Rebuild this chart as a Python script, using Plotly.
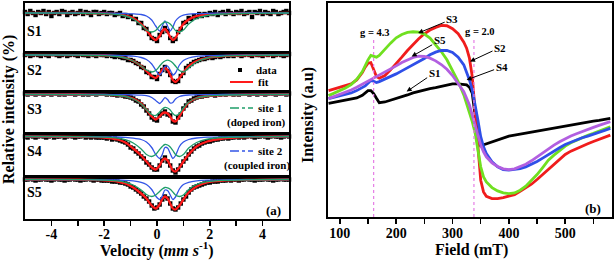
import plotly.graph_objects as go

# ---------------- data: panel (a) Mossbauer spectra ----------------
velocity_data = [round(-5.0 + 0.1 * i, 1) for i in range(101)]

s1_data = [1, -1, 2, 0, -2, 1, 0, 2, -1, 1, -3, 0, 1, -1, 2, 1, -2, 0, 1, -1, 0, 2, -1, 1, 0, -2, 1, 1, -1, 0,
           1, -1, 0, 0, -2, -1, 0, -3, -2, -4, -3, -6, -6, -10, -10, -15, -16, -21, -25, -26, -28, -22, -19, -15, -18,
           -25, -28, -26, -19, -16, -10, -9, -5, -6, -3, -4, -1, -3, -1, -2, 0,
           -1, 1, -2, 0, 1, -1, 2, 0, -1, 1, 0, 2, -1, 0, 1, -4, 1, 0, 2, -1, 1, 0, -1, 2, 1, -1, 0, 1, 2, 0]
s2_data = [0, 1, -1, 0, 1, 0, -1, 1, 0, -1, 1, 1, 0, -1, 0, 1, -1, 0, 1, 0, -1, 1, 0, 0, -1, 1, 0, -1, 1, 0,
           0, -1, 0, -1, -2, -1, -2, -3, -3, -5, -5, -6, -8, -9, -12, -13, -17, -18, -22, -22, -24, -19, -15, -12, -16,
           -20, -26, -27, -26, -21, -18, -13, -11, -9, -7, -6, -5, -4, -4, -3, -2,
           -3, -2, -1, -2, -1, 0, -1, 0, -1, 1, 0, -1, 0, 1, 0, -1, 1, 0, 0, -1, 1, 0, 1, -1, 0, 1, 0, -1, 0, 1]
s3_data = [1, 0, 2, 1, 0, 1, 2, 0, 1, 1, 0, 2, 1, 0, 1, 0, 2, 1, 1, 0, 1, 2, 0, 1, 0, 1, 1, 0, 2, 1,
           1, 0, 1, 0, 0, -1, 0, -1, -2, -2, -3, -4, -6, -7, -10, -12, -16, -19, -23, -25, -26, -21, -19, -17, -20,
           -21, -27, -28, -23, -20, -14, -11, -7, -6, -4, -3, -2, -2, -1, -1, 0,
           0, -1, 1, 0, 1, 0, 1, 2, 0, 1, 0, 1, 2, 1, 0, 1, 1, 0, 2, 1, 0, 1, 2, 1, 0, 1, 1, 2, 0, 1]
s4_data = [0, -1, 1, 0, -1, 0, 1, 0, -1, 0, 1, -1, 0, 0, 1, -1, 0, 1, 0, -1, 0, 0, 1, -1, 0, -1, 0, -1, -1, -1,
           -1, -2, -1, -3, -2, -3, -4, -5, -6, -8, -11, -12, -15, -17, -20, -22, -26, -28, -31, -33, -33, -29, -24, -21, -25,
           -29, -34, -36, -33, -29, -25, -22, -18, -15, -12, -10, -9, -7, -6, -5, -5,
           -4, -3, -3, -2, -2, -1, -2, -1, -1, 0, -1, 0, -1, 0, 1, 0, -1, 0, 0, 1, 0, -1, 0, 1, 0, 0, -1, 0, 1, 0]
s5_data = [0, 0, 1, 0, -1, 0, 0, 1, 0, 0, -1, 0, 1, 0, 0, -1, 0, 0, 1, 0, 0, -1, 0, 0, 1, 0, -1, 0, 0, -1,
           -1, -1, -1, -2, -2, -2, -3, -3, -4, -5, -7, -8, -10, -12, -14, -17, -19, -22, -26, -29, -28, -25, -20, -17, -19,
           -24, -29, -30, -28, -24, -20, -17, -13, -10, -8, -7, -6, -5, -4, -3, -3,
           -2, -2, -2, -1, -1, -1, 0, -1, 0, 0, -1, 0, 0, 1, 0, 0, -1, 0, 0, 0, 1, 0, 0, -1, 0, 0, 1, 0, 0, 0]

velocity_fit = [-5.0, -3.0, -2.0, -1.5, -1.2, -0.9, -0.6, -0.4, -0.2, -0.05, 0.1, 0.2, 0.3, 0.4, 0.5,
                0.6, 0.7, 0.85, 1.0, 1.2, 1.5, 1.9, 2.5, 3.5, 5.0]

s1_fit = [0, 0, -0.3, -1, -2.5, -5, -11, -17, -24, -27, -23, -18, -16, -19, -24, -27, -25, -17, -11, -6.5, -3, -1.5, -0.6, -0.2, 0]
s1_site1 = [0, -0.2, -0.6, -1.5, -3, -6, -12, -17, -19, -17.5, -13, -10.5, -9, -9.3, -11, -14, -17.5, -19, -17, -11, -5.5, -2.5, -1, -0.4, 0]
s1_site2 = [0, 0, -0.1, -0.3, -0.5, -0.8, -1.5, -3, -7, -13, -18, -13, -8, -13, -18, -14, -8, -4, -2.2, -1.2, -0.6, -0.3, -0.1, 0, 0]

s2_fit = [0, -0.1, -0.4, -1.2, -3, -6, -11, -16, -21, -23, -19, -14.5, -13, -15, -20, -25, -27, -23, -17.5, -11, -6, -3, -1.2, -0.4, 0]
s2_site1 = [0, -0.2, -0.6, -1.5, -3, -6, -11, -15, -17, -15.5, -11, -8, -6, -5.2, -6, -8, -11, -15.5, -17, -13, -7, -3, -1.2, -0.4, 0]
s2_site2 = [0, -0.1, -0.2, -0.4, -0.7, -1.2, -2.5, -4.5, -9, -15, -20, -17, -11.5, -11, -15, -20, -18, -10, -5.5, -3, -1.4, -0.7, -0.3, -0.1, 0]

s3_fit = [0, 0, -0.3, -0.8, -1.8, -4, -9, -15, -22, -25, -22, -19, -18, -19, -22, -26, -27, -22, -15, -8, -3.5, -1.5, -0.6, -0.2, 0]
s3_site1 = [0, -0.1, -0.4, -1, -2, -4.5, -9.5, -15, -20, -21, -17.5, -14.5, -13, -13.5, -15.5, -19, -21, -19, -13.5, -7.5, -3.5, -1.5, -0.6, -0.2, 0]
s3_site2 = [0, 0, 0, -0.1, -0.2, -0.3, -0.6, -1.2, -3, -6, -9, -6.5, -3.2, -5, -8.5, -8, -4.5, -2, -1, -0.5, -0.2, -0.1, 0, 0, 0]

s4_fit = [0, -0.3, -1, -3, -6, -12, -19, -25, -31, -33, -29, -24, -22, -24, -29, -34, -35, -31, -25, -18, -10, -5, -2, -0.6, 0]
s4_site1 = [0, -0.2, -0.7, -1.6, -3.2, -6.5, -12.5, -18, -20, -18, -13, -10, -8, -8.5, -10.5, -14, -18, -20, -18, -11.5, -6, -2.6, -1, -0.4, 0]
s4_site2 = [0, -0.1, -0.3, -0.5, -0.9, -1.6, -3, -5.5, -11, -18, -22, -18, -11, -11.5, -17, -22, -19, -10, -5.5, -3, -1.5, -0.7, -0.3, -0.1, 0]

s5_fit = [0, -0.2, -0.8, -2, -4, -8, -14, -19, -26, -29, -25, -19.5, -17, -19, -24, -29, -30, -26, -20, -13, -7, -3, -1.2, -0.4, 0]
s5_site1 = [0, -0.2, -0.6, -1.4, -2.8, -5.5, -10.5, -15, -17, -15.5, -12, -9.5, -8, -8.3, -9.8, -12.5, -15.5, -17, -15.5, -10, -5, -2.2, -0.9, -0.3, 0]
s5_site2 = [0, -0.1, -0.3, -0.5, -0.8, -1.4, -2.8, -5, -10, -16.5, -20, -16.5, -10.5, -11, -15.5, -20, -17.5, -9.5, -5, -2.8, -1.4, -0.6, -0.3, -0.1, 0]

sample_names = ["S1", "S2", "S3", "S4", "S5"]
velocity_ticks = [-4, -2, 0, 2, 4]
velocity_ticktext = ["-4", "-2", "0", "2", "4"]
velocity_minor = [-3, -1, 1, 3]

# ---------------- data: panel (b) EPR spectra ----------------
field = [80, 90, 100, 110, 120, 130, 140, 145, 150, 155, 160, 165, 170, 180, 190, 200, 210, 220, 230, 240,
         250, 260, 270, 280, 290, 300, 310, 320, 325, 330, 335, 340, 345, 350, 355, 360, 370, 380, 390, 400,
         410, 420, 430, 440, 450, 460, 470, 480, 490, 500, 510, 520, 530, 540, 550, 560, 570, 580]

epr_black = [4.0, 4.3, 4.6, 4.9, 5.1, 5.6, 6.4, 7.0, 7.8, 7.8, 6.9, 5.5, 4.2, 4.4, 4.9, 5.4, 5.8, 6.5, 7.1, 7.6,
             8.0, 8.4, 8.7, 9.0, 9.4, 9.8, 9.8, 9.6, 9.5, 8.8, 7.0, 0.5, -6.0, -8.7, -8.4, -8.0, -7.4, -6.8, -6.2, -5.8,
             -5.5, -5.2, -4.9, -4.6, -4.3, -4.0, -3.6, -3.3, -3.0, -2.6, -2.4, -2.1, -1.9, -1.6, -1.3, -1.1, -0.8, -0.5]
epr_red = [7.8, 8.3, 8.8, 9.3, 9.8, 11.0, 13.2, 14.8, 16.0, 16.2, 14.0, 12.0, 11.5, 12.3, 14.0, 15.8, 17.8, 19.8, 21.6, 23.3,
           24.8, 25.9, 26.7, 27.3, 27.2, 26.3, 24.8, 22.3, 20.5, 17.5, 12.0, 2.5, -9.5, -19.0, -22.5, -23.8, -24.5, -24.5, -24.2, -23.8,
           -23.3, -22.3, -21.3, -20.2, -18.8, -17.3, -15.8, -14.3, -12.8, -11.3, -10.3, -9.5, -8.8, -8.1, -7.4, -6.8, -6.2, -5.5]
epr_green = [6.3, 7.0, 7.8, 8.6, 9.6, 11.2, 13.5, 15.3, 17.0, 18.3, 18.0, 17.8, 18.3, 20.2, 22.0, 23.6, 24.6, 25.2, 25.4, 25.3,
             24.7, 23.5, 21.5, 19.5, 17.0, 13.8, 10.5, 6.5, 4.0, 1.5, -1.5, -4.8, -10.5, -15.0, -18.0, -19.5, -21.2, -22.2, -22.8, -23.0,
             -22.8, -22.0, -20.8, -19.2, -17.3, -15.2, -13.0, -11.5, -10.0, -8.8, -7.8, -7.0, -6.3, -5.6, -5.0, -4.3, -3.7, -3.0]
epr_blue = [5.4, 5.8, 6.3, 6.7, 7.1, 7.8, 8.6, 9.2, 10.0, 10.8, 10.6, 10.2, 10.5, 11.2, 12.0, 12.8, 13.7, 14.6, 15.5, 16.4,
            17.4, 18.5, 19.3, 19.8, 19.8, 19.2, 17.8, 15.5, 13.5, 11.0, 8.0, 4.0, -1.0, -6.0, -9.0, -11.0, -13.5, -15.0, -15.8, -16.0,
            -15.8, -15.5, -15.0, -14.3, -13.4, -12.4, -11.3, -10.3, -9.3, -8.3, -7.6, -7.0, -6.3, -5.8, -5.3, -4.7, -4.1, -3.5]
epr_violet = [5.4, 6.0, 6.6, 7.3, 8.0, 8.8, 9.7, 10.1, 10.6, 11.0, 11.4, 11.8, 12.3, 13.2, 14.2, 15.2, 16.2, 17.0, 17.7, 18.1,
              18.0, 17.5, 16.7, 15.6, 14.2, 12.3, 10.0, 7.5, 5.5, 3.5, 0.5, -2.5, -5.5, -8.5, -10.5, -12.0, -13.8, -14.9, -15.6, -15.8,
              -15.6, -15.0, -14.2, -13.2, -12.0, -10.8, -9.6, -8.5, -7.5, -6.6, -5.8, -5.1, -4.4, -3.8, -3.2, -2.6, -2.0, -1.5]

field_ticks = [100, 200, 300, 400, 500]
field_ticktext = ["100", "200", "300", "400", "500"]
field_minor = [150, 250, 350, 450, 550]
g_fields = [160, 338]
g_labels = ["g = 4.3", "g = 2.0"]

# ---------------- layout helpers ----------------
W, H = 614, 262
FONT = "Liberation Serif"


def px(x):
    return x / W


def py(y):
    return 1 - y / H


fig = go.Figure()

strip_px = [(3, 53), (53, 92), (92, 134), (134, 177), (177, 219)]
strip_ranges = [[-40, 10], [-37, 2], [-39.5, 2.5], [-40.5, 2.5], [-39.5, 2.5]]
data_sets = [s1_data, s2_data, s3_data, s4_data, s5_data]
fits = [s1_fit, s2_fit, s3_fit, s4_fit, s5_fit]
site1s = [s1_site1, s2_site1, s3_site1, s4_site1, s5_site1]
site2s = [s1_site2, s2_site2, s3_site2, s4_site2, s5_site2]

RED_A = "#ff1a1a"
GREEN_A = "#1f9e6a"
BLUE_A = "#3355e6"
TICKFONT = dict(family=FONT, size=14, color="black", weight="bold")

layout_axes = {}
for k in range(5):
    n = k + 1
    xa = "x" if n == 1 else f"x{n}"
    ya = "y" if n == 1 else f"y{n}"
    fig.add_trace(go.Scatter(x=velocity_data, y=data_sets[k], mode="markers", xaxis=xa, yaxis=ya,
                             marker=dict(symbol="square", size=4.4, color="black", line=dict(width=0)),
                             cliponaxis=False, showlegend=False))
    fig.add_trace(go.Scatter(x=velocity_fit, y=fits[k], mode="lines", xaxis=xa, yaxis=ya,
                             line=dict(color=RED_A, width=2.3, shape="spline", smoothing=0.8), showlegend=False))
    fig.add_trace(go.Scatter(x=velocity_fit, y=site2s[k], mode="lines", xaxis=xa, yaxis=ya,
                             line=dict(color=BLUE_A, width=1.3, shape="spline", smoothing=0.8), showlegend=False))
    fig.add_trace(go.Scatter(x=velocity_fit, y=site1s[k], mode="lines", xaxis=xa, yaxis=ya,
                             line=dict(color=GREEN_A, width=1.3, shape="spline", smoothing=0.8), showlegend=False))
    top, bot = strip_px[k]
    xname = "xaxis" if n == 1 else f"xaxis{n}"
    yname = "yaxis" if n == 1 else f"yaxis{n}"
    xdict = dict(domain=[px(25), px(289)], range=[-5, 5], anchor=ya, showline=True, mirror=True,
                 linecolor="black", linewidth=1.6, showgrid=False, zeroline=False)
    if n > 1:
        xdict["matches"] = "x"
    if n < 5:
        xdict.update(showticklabels=False, ticks="")
    else:
        xdict.update(tickmode="array", tickvals=velocity_ticks, ticktext=velocity_ticktext,
                     ticks="outside", ticklen=5, tickwidth=1.5, tickcolor="black",
                     ticklabelstandoff=-3, tickfont=TICKFONT,
                     minor=dict(tickmode="array", tickvals=velocity_minor, ticks="outside",
                                ticklen=5, tickwidth=1.5, tickcolor="black"))
    layout_axes[xname] = xdict
    layout_axes[yname] = dict(domain=[py(bot), py(top)], range=strip_ranges[k], anchor=xa,
                              showline=True, mirror=True, linecolor="black", linewidth=1.6,
                              showgrid=False, zeroline=False, ticks="", showticklabels=False)

# panel (b)
epr_series = [(epr_black, "black"), (epr_red, "#f01c1c"), (epr_green, "#70e020"),
              (epr_blue, "#2f4fe8"), (epr_violet, "#b25fe0")]
for ys, col in epr_series:
    fig.add_trace(go.Scatter(x=field, y=ys, mode="lines", xaxis="x6", yaxis="y6",
                             line=dict(color=col, width=2.8), showlegend=False))

layout_axes["xaxis6"] = dict(domain=[px(328), px(612)], range=[79, 583], anchor="y6", showline=True, mirror=True,
                             linecolor="black", linewidth=1.8, showgrid=False, zeroline=False,
                             tickmode="array", tickvals=field_ticks, ticktext=field_ticktext,
                             ticks="outside", ticklen=5, tickwidth=1.5, tickcolor="black",
                             ticklabelstandoff=-3, tickfont=TICKFONT,
                             minor=dict(tickmode="array", tickvals=field_minor, ticks="outside",
                                        ticklen=5, tickwidth=1.5, tickcolor="black"))
layout_axes["yaxis6"] = dict(domain=[py(217), py(3)], range=[-30, 34], anchor="x6", showline=True, mirror=True,
                             linecolor="black", linewidth=1.8, showgrid=False, zeroline=False,
                             ticks="", showticklabels=False)

shapes = []
for gf in g_fields:
    shapes.append(dict(type="line", xref="x6", yref="y6", x0=gf, x1=gf, y0=-30, y1=23,
                       line=dict(color="#e67ee6", width=1.2, dash="dot")))

# legend of panel (a)
shapes.append(dict(type="rect", xref="paper", yref="paper", x0=px(238), x1=px(242), y0=py(72), y1=py(68),
                   fillcolor="black", line=dict(width=0)))
shapes.append(dict(type="line", xref="paper", yref="paper", x0=px(230), x1=px(253), y0=py(82), y1=py(82),
                   line=dict(color=RED_A, width=2)))
shapes.append(dict(type="line", xref="paper", yref="paper", x0=px(230), x1=px(253), y0=py(108), y1=py(108),
                   line=dict(color=GREEN_A, width=1.5, dash="dashdot")))
shapes.append(dict(type="line", xref="paper", yref="paper", x0=px(230), x1=px(253), y0=py(151), y1=py(151),
                   line=dict(color=BLUE_A, width=1.5, dash="dashdot")))


def ann(text, x, y, size, xanchor="center", angle=0):
    return dict(text=text, x=px(x), y=py(y), xref="paper", yref="paper", showarrow=False,
                xanchor=xanchor, yanchor="middle", textangle=angle,
                font=dict(family=FONT, size=size, color="black", weight="bold"))


annotations = [
    ann("Relative intensity (%)", 9, 110, 16, angle=-90),
    ann("Velocity (<i>mm s</i><sup>-1</sup>)", 157, 249, 16),
    ann("Intensity (a.u)", 308, 115, 16, angle=-90),
    ann("Field (mT)", 471, 250, 16),
    ann("data", 254, 70, 11, "left"),
    ann("fit", 256, 82, 11, "left"),
    ann("site 1", 256, 108, 11, "left"),
    ann("(doped iron)", 256.5, 122, 11),
    ann("site 2", 256, 151, 11, "left"),
    ann("(coupled iron)", 257, 166, 11),
    ann("(a)", 273, 210, 13),
    ann("(b)", 593, 208, 13),
]
for name, ypx in zip(sample_names, [32, 70, 110, 151, 192]):
    annotations.append(ann(name, 34, ypx, 14))

for gf, gl, gy in zip(g_fields, g_labels, [25.1, 25.4]):
    annotations.append(dict(text=gl, x=gf + (1.7 if gf < 200 else 11), y=gy, xref="x6", yref="y6",
                            showarrow=False, font=dict(family=FONT, size=10.5, color="black", weight="bold")))

# arrow labels for panel (b): (label, tip field, tip intensity, dx, dy)
arrow_labels = [("S3", 239, 25.0, 34, -14), ("S5", 227.5, 18.0, 28, -16), ("S1", 218.6, 7.5, 28, -19),
                ("S2", 331, 16.5, 30, -14), ("S4", 325, 11.0, 35, -13)]
for lab, fx, iy, dx, dy in arrow_labels:
    annotations.append(dict(text=lab, x=fx, y=iy, xref="x6", yref="y6", ax=dx, ay=dy,
                            showarrow=True, arrowhead=2, arrowsize=1, arrowwidth=1, arrowcolor="black",
                            font=dict(family=FONT, size=11, color="black", weight="bold")))

fig.update_layout(width=W, height=H, margin=dict(l=0, r=0, t=0, b=0),
                  paper_bgcolor="white", plot_bgcolor="white", hovermode=False,
                  shapes=shapes, annotations=annotations, showlegend=False,
                  **layout_axes)

fig.write_html("out.html", config={"displayModeBar": False, "staticPlot": True},
               post_script="document.body.style.margin='0';document.body.style.padding='0';"
                           "document.body.style.overflow='hidden';")
